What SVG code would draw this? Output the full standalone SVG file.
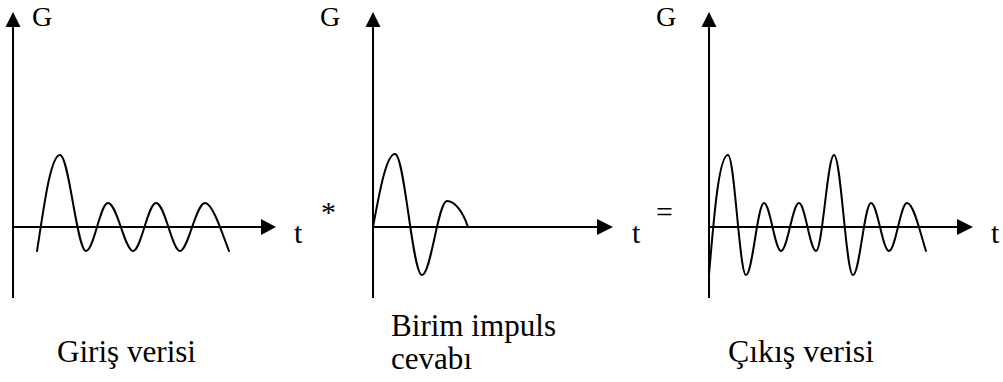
<svg xmlns="http://www.w3.org/2000/svg" width="1003" height="382" viewBox="0 0 1003 382">
<style>
.ax{stroke:#000;stroke-width:2;fill:none}
.wave{stroke:#000;stroke-width:2;fill:none;stroke-linejoin:round;stroke-linecap:round}
.ah{fill:#000}
text{fill:#000}
.g{font-size:28px}
.t{font-size:30px}
.lbl{font-size:31px}
</style>
<rect width="1003" height="382" fill="#fff"/>
<g id="connectors">
<g id="axes1">
<line class="ax" x1="13" y1="298" x2="13" y2="26"/>
<polygon class="ah" points="13,12 5.5,27 20.5,27"/>
<line class="ax" x1="13" y1="227" x2="262" y2="227"/>
<polygon class="ah" points="276,227 261,219 261,235"/>
</g>
<g id="axes2">
<line class="ax" x1="373" y1="298" x2="373" y2="26"/>
<polygon class="ah" points="373,12 365.5,27 380.5,27"/>
<line class="ax" x1="373" y1="227" x2="598" y2="227"/>
<polygon class="ah" points="613,227 597,219 597,235"/>
</g>
<g id="axes3">
<line class="ax" x1="709" y1="298" x2="709" y2="26"/>
<polygon class="ah" points="709,12 701.5,27 716.5,27"/>
<line class="ax" x1="709" y1="227" x2="958" y2="227"/>
<polygon class="ah" points="973,227 957,219 957,235"/>
</g>
</g>
<g font-family="'Liberation Serif', 'Times New Roman', Times, 'DejaVu Serif', 'Noto Serif', FreeSerif, serif">
<g id="plot1">
<path class="wave" d="M37,251 C43,214 50,155 60,155 C69,155 77,251 86,251 C94,251 100,203 108,203 C117,203 125,251 133,251 C141,251 148,203 156,203 C165,203 172,251 180,251 C188,251 196,203 205,203 C213,203 223,236 229,251"/>
<text class="g" x="32" y="26">G</text>
<text class="t" x="294" y="243">t</text>
<text class="lbl" x="57" y="362" textLength="139" lengthAdjust="spacingAndGlyphs">Giriş verisi</text>
</g>
<g id="op1"><text class="t" x="321" y="222">*</text></g>
<g id="plot2">
<path class="wave" d="M373,227 C379,195 386,154 395,154 C404.7,154 412.3,275 422,275 C431,275 438,201 447,201 C455,201 463,212 468,227"/>
<text class="g" x="320" y="26">G</text>
<text class="t" x="632" y="243">t</text>
<text class="lbl" x="391" y="336" textLength="165" lengthAdjust="spacingAndGlyphs">Birim impuls</text>
<text class="lbl" x="391" y="369" textLength="81" lengthAdjust="spacingAndGlyphs">cevabı</text>
</g>
<g id="op2"><text class="t" x="656" y="222">=</text></g>
<g id="plot3">
<path class="wave" d="M709,275 C714,215 719,155 728,155 C734.5,155 739.5,275 746,275 C752.5,275 757.5,203 764,203 C770,203 775,251 781,251 C787.5,251 792.5,203 799,203 C805,203 810,251 816,251 C822.5,251 827.5,155 834,155 C841,155 846,275 853,275 C859.5,275 864.5,203 871,203 C877.5,203 882.5,251 889,251 C895.5,251 900.5,203 907,203 C914,203 921,236 926,251"/>
<text class="g" x="656" y="26">G</text>
<text class="t" x="991" y="243">t</text>
<text class="lbl" x="728" y="362" textLength="146" lengthAdjust="spacingAndGlyphs">Çıkış verisi</text>
</g>
</g>
</svg>
